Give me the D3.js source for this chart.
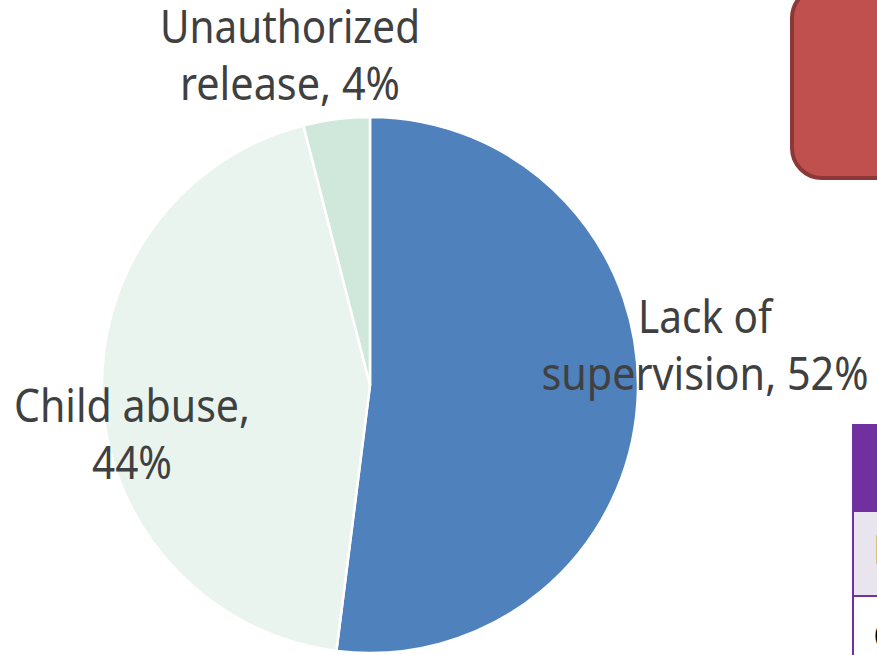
<!DOCTYPE html>
<html>
<head>
<meta charset="utf-8">
<script src="https://cdn.jsdelivr.net/npm/d3@7"></script>
<style>
  html, body { margin: 0; padding: 0; background: #ffffff; overflow: hidden; }
  svg { display: block; }
</style>
</head>
<body>
<svg id="chart" width="877" height="655"></svg>
<script>
// pie data (clockwise from 12 o'clock)
const categories = ["Lack of supervision", "Child abuse", "Unauthorized release"];
const values = [52, 44, 4];
const labelLines = [["Lack of", "supervision, 52%"], ["Child abuse,", "44%"], ["Unauthorized", "release, 4%"]];
const sliceColors = ["#4F81BD", "#EAF4EE", "#D0E8DC"];

// table rows peeking in at the right edge
const tableRows = ["Lack of supervision", "Child abuse"];

// label anchors (centre of the first line's baseline), relative to the pie centre
const labelPos = [[335, -52], [-238, 37], [-80, -342]];
const labelWidth = [[134, 327], [236, 80], [260, 220]];

var svg = d3.select("svg#chart");
var cx = 370, cy = 385, R = 268;

// background shapes
svg.append("rect")
   .attr("x", 792).attr("y", -12)
   .attr("width", 140).attr("height", 190)
   .attr("rx", 30).attr("ry", 30)
   .attr("fill", "#C0504D")
   .attr("stroke", "#8C3836")
   .attr("stroke-width", 4);

var tbl = svg.append("g");
tbl.append("rect").attr("x", 852).attr("y", 424).attr("width", 40).attr("height", 87).attr("fill", "#7030A0");
tbl.append("rect").attr("x", 853).attr("y", 511).attr("width", 40).attr("height", 85).attr("fill", "#E8E5EE");
tbl.append("rect").attr("x", 853).attr("y", 597).attr("width", 40).attr("height", 60).attr("fill", "#ffffff");
tbl.append("line").attr("x1", 853).attr("x2", 853).attr("y1", 424).attr("y2", 655).attr("stroke", "#7030A0").attr("stroke-width", 2);
tbl.append("line").attr("x1", 853).attr("x2", 877).attr("y1", 511).attr("y2", 511).attr("stroke", "#7030A0").attr("stroke-width", 2);
tbl.append("line").attr("x1", 853).attr("x2", 877).attr("y1", 596).attr("y2", 596).attr("stroke", "#7030A0").attr("stroke-width", 2);
tbl.selectAll("text.row")
   .data(tableRows).enter()
   .append("text")
   .attr("class", "row")
   .attr("x", 873)
   .attr("y", function(d, i){ return 564 + i * 86; })
   .attr("font-family", "'Liberation Sans Narrow', 'Noto Sans', sans-serif")
   .attr("font-size", 40)
   .attr("fill", "#000000")
   .text(function(d){ return d; });

// pie
var pie = d3.pie().sort(null).value(function(d){ return d; });
var arc = d3.arc().innerRadius(0).outerRadius(R);
var arcs = pie(values);

var g = svg.append("g").attr("transform", "translate(" + cx + "," + cy + ")");
g.selectAll("path.slice")
 .data(arcs).enter()
 .append("path")
 .attr("class", "slice")
 .attr("d", arc)
 .attr("fill", function(d, i){ return sliceColors[i]; })
 .attr("stroke", "#ffffff")
 .attr("stroke-width", 2.5)
 .attr("stroke-linejoin", "round");

// data labels
var lbl = g.selectAll("text.lbl")
   .data(arcs).enter()
   .append("text")
   .attr("class", "lbl")
   .attr("text-anchor", "middle")
   .attr("font-family", "'Liberation Sans Narrow', 'Noto Sans', sans-serif")
   .attr("font-size", 45)
   .attr("fill", "#404040");

lbl.each(function(d, i){
    var t = d3.select(this);
    labelLines[i].forEach(function(line, j){
        var ts = t.append("tspan")
          .attr("x", labelPos[i][0])
          .attr("y", labelPos[i][1] + j * 57)
          .text(line);
        var w = ts.node().getComputedTextLength();
        if (Math.abs(w - labelWidth[i][j]) > 4) {
            ts.attr("textLength", labelWidth[i][j]).attr("lengthAdjust", "spacingAndGlyphs");
        }
    });
});
</script>
</body>
</html>
